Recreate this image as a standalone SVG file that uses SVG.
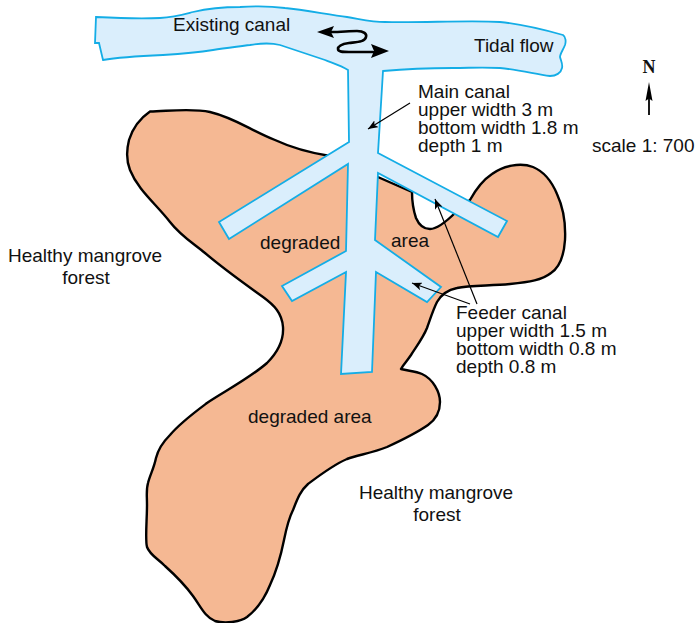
<svg xmlns="http://www.w3.org/2000/svg" width="696" height="623" viewBox="0 0 696 623">
<style>
text{font-family:"Liberation Sans",Arial,sans-serif;font-size:19px;fill:#111}
.c{text-anchor:middle}
.land{fill:#f5b893;stroke:#000;stroke-width:2.4;stroke-linejoin:round}
.canal{fill:#daeefc;stroke:#14ade6;stroke-width:1.8;stroke-linejoin:miter}
.ln{fill:none;stroke:#000;stroke-width:1.2}
.fl{fill:none;stroke:#000;stroke-width:2.6;stroke-linecap:round}
</style>
<defs>
<marker id="small" markerUnits="userSpaceOnUse" markerWidth="11" markerHeight="8" refX="10" refY="4" orient="auto"><path d="M0 0L10 4L0 8L2.5 4Z" fill="#000"/></marker>
</defs>
<g id="degraded-land">
<path class="land" d="M150 111.500C170 111 192 108 210 112C235 118 250 130 275 140C290 147 305 152 330 156L412 192C412 205 414 212 416 218C419 225 423 229 430 229C438 229 447 221 456 212L470 200C476 189 483 180 492 174C503 166 520 162 533 167C545 172 552 182 557 194C563 207 566 220 565 240C564 255 560 267 551 273C542 280 530 282 510 284C490 286 470 285 457 288C447 290 441 295 437 302C433 310 431 317 427 328C423 338 416 347 411 355C407 361 403 365 401 369C408 371 415 371 422 374C433 379 440 392 440 402C440 412 435 420 428 425C415 434 400 441 387 447C372 453 358 455 347 459C333 465 320 475 308 484C300 491 297 500 293 510C288 520 286 530 284 540C281 555 277 570 270 585C264 600 256 610 247 617C240 622 225 624 215 621C205 617 201 607 193 596C185 585 175 575 165 566C157 558 150 555 147 547C145 540 147 520 147 505C147 495 146 490 148 483C150 475 154 468 156 458C158 450 163 442 170 435C180 423 195 412 207 403C225 391 250 378 267 363C277 353 284 342 283 327C282 313 274 305 263 297C245 284 225 270 205 253C190 241 180 235 170 222C155 203 138 190 130 170C126 160 127 148 129 140C133 127 142 117 150 111.500Z"/>
</g>
<g id="canal">
<path class="canal" d="M96 17C115 18 140 19 160 18C175 17 185 14 193 12C210 8 225 7 240 7C255 6 270 6 285 8C305 10 330 15 347 17C360 19 372 22 385 22C420 23 470 20 500 22C520 24 545 30 563 35C566 37 566 42 565 45C563 50 560 54 560 57C561 61 563 64 562 68C561 73 556 76 550 76C535 74 520 70 500 68C480 67 470 68 453 68C430 68 405 69 383 71L378 153L507 221L498 237L378 173L375 240L441 287L427 302L376 272L372 372L341 374L346 272L292 301L282 286L346 251L348 164L229 239L219 222L349 142L348 70C340 65 332 63 325 60C310 55 295 50 280 45C272 43 262 43 250 45C235 47 225 48 213 50C195 53 180 54 163 55C140 56 120 57 103 60L99 43L95 43Z"/>
</g>
<g id="connectors">
<path class="ln" d="M410 103L368 129" marker-end="url(#small)"/>
<path class="ln" d="M477 304L435 199" marker-end="url(#small)"/>
<path class="ln" d="M470 304L412 283" marker-end="url(#small)"/>
<path class="fl" d="M332 32C340 32 350 31 357 31C364 31 367 34 366 37C365 42 357 42 349 43C342 44 338 46 338 49C338 52 343 52 349 52L373 52"/>
<path d="M317 32L334 26L331 32L334 38Z" fill="#000"/>
<path d="M389 51L371 44L374 51L371 58Z" fill="#000"/>
<path d="M649 115V98" stroke="#000" stroke-width="1.8" fill="none"/>
<path d="M649 82L652.500 101L649 98.500L645.500 101Z" fill="#000"/>
</g>
<g id="labels">
<text x="173" y="31">Existing canal</text>
<text x="474" y="51.500">Tidal flow</text>
<text x="418" y="97.500">Main canal</text>
<text x="418" y="115.500">upper width 3 m</text>
<text x="418" y="133.500">bottom width 1.8 m</text>
<text x="418" y="151.500">depth 1 m</text>
<text x="592" y="151.500">scale 1: 700</text>
<text x="649" y="72.500" class="c" style="font-family:'Liberation Serif',serif;font-weight:bold;font-size:18px">N</text>
<text x="8" y="262">Healthy mangrove</text>
<text x="86" y="284" class="c">forest</text>
<text x="260" y="249">degraded</text>
<text x="391" y="247">area</text>
<text x="456" y="319">Feeder canal</text>
<text x="456" y="337">upper width 1.5 m</text>
<text x="456" y="355">bottom width 0.8 m</text>
<text x="456" y="373">depth 0.8 m</text>
<text x="248" y="423">degraded area</text>
<text x="359" y="499">Healthy mangrove</text>
<text x="437" y="521" class="c">forest</text>
</g>
</svg>
